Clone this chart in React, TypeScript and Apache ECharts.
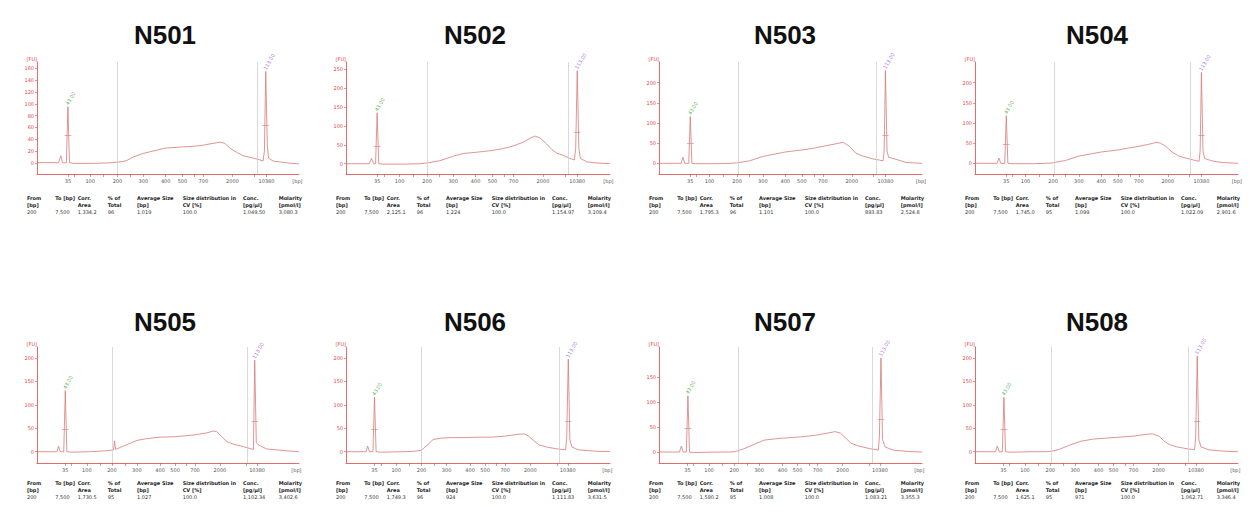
import React, { useEffect, useRef } from "react";
import * as echarts from "echarts";

// ---------- DATA ----------
const PANEL_NAMES = ["N501", "N502", "N503", "N504", "N505", "N506", "N507", "N508"];

const LADDER_LABELS = ["35", "100", "200", "300", "400", "500", "700", "2000", "10380", "[bp]"];
const LADDER_A = [11.8, 20.3, 30.7, 40.6, 49.1, 55.5, 63.5, 74.6, 87.6, 99.4];
const LADDER_B = [11.9, 19.2, 29.7, 39.5, 48.0, 54.3, 62.3, 73.3, 86.1, 99.6];
const LADDER_C = [10.8, 19.0, 28.6, 38.1, 47.0, 52.7, 60.3, 69.8, 84.0, 99.0];
const MINOR_A = [14.3, 25.4, 35.5, 60.0, 83.1];
const MINOR_B = [14.2, 24.5, 34.5, 59.0, 81.5];
const MINOR_C = [13.2, 24.0, 33.5, 57.0, 80.0];

const N501_TRACE = [[0,0],[4,0.5],[8.2,0],[9.1,12],[9.8,0],[11.2,0],[11.8,95],[12.4,0],[14,-1],[21.6,-1],[28,0],[30.5,1],[32.5,2],[34.3,4],[36.8,10],[40.6,16],[44.4,20],[49.1,25],[55.5,27],[60,28],[63.5,30],[66,32],[68.5,34],[69.8,35],[71.7,33],[73.6,25],[76.1,18],[78.7,12],[82.5,8],[85,5],[86.3,3],[86.8,20],[87.3,155],[87.9,30],[88.4,8],[90.1,3],[95.2,0],[100,-2]];
const N502_TRACE = [[0,0],[5,0],[8.8,0],[9.7,14],[10.5,0],[11.2,0],[11.8,134],[12.4,0],[14,-1],[22,-1],[28,0],[30.6,2],[35.6,8],[40.7,20],[44.4,27],[49.1,30],[55.4,35],[59.6,40],[63.4,47],[67.2,57],[69.7,67],[71.6,73],[73.5,68],[76,52],[77.9,38],[79.8,28],[82.3,22],[84.8,14],[86.5,10],[87,40],[87.6,245],[88.2,40],[88.8,14],[91.2,5],[94.9,2],[100,0]];
const N503_TRACE = [[0,0],[5,0],[8.4,0],[9.1,15],[9.8,0],[11.3,0],[11.9,116],[12.5,0],[14,-1],[22,-1],[27,0],[29.4,1],[34.4,6],[39.5,17],[48,28],[54.3,33],[58.5,37],[62.3,42],[68.6,50],[70.1,52],[72.4,42],[74.9,25],[77.5,18],[81.3,11],[83.8,8],[85.2,6],[85.6,30],[86.1,230],[86.7,30],[87.3,15],[90.1,10],[93.9,2],[100,0]];
const N504_TRACE = [[0,0],[5,0],[8.4,0],[9.1,13],[9.8,0],[11.3,0],[11.9,118],[12.5,0],[14,-1],[22,-1],[27,0],[29.4,1],[34.4,7],[39.5,18],[48,28],[54.3,33],[58.5,38],[62.3,42],[66,47],[69,52],[70.5,50],[72.5,42],[74.9,28],[77.5,18],[81.3,11],[83.8,7],[85.2,5],[85.6,30],[86.1,225],[86.7,30],[87.3,12],[90.1,6],[93.9,2],[100,0]];
const N505_TRACE = [[0,0],[5,0],[7.6,0],[8.2,12],[8.9,0],[10.2,0],[10.8,130],[11.4,0],[13,-1],[20,0],[26.6,2],[29.2,4],[29.6,23],[30,5],[33,12],[38.1,24],[41.9,28],[47,31],[52.7,32],[60.3,36],[64.7,40],[67.3,44],[68.5,43],[70.4,33],[72.3,22],[74.9,16],[78.7,11],[81.2,7],[82.6,5],[83.1,195],[83.7,20],[84.4,15],[87.6,6],[95.2,2],[100,0]];
const N506_TRACE = [[0,0],[5,0],[7.6,0],[8.2,12],[8.9,0],[10.2,0],[10.8,116],[11.4,0],[13,-1],[22,0],[26,1],[28.5,3],[31,15],[33,26],[36,29],[40,30],[45,30],[50,31],[55,31],[60,33],[65,37],[67.5,38],[69,34],[71,24],[73,15],[76,10],[80,6],[83.2,4],[83.6,30],[84.2,197],[84.8,25],[85.6,10],[88,4],[95,1],[100,0]];
const N507_TRACE = [[0,0],[5,0],[7.8,0],[8.5,12],[9.2,0],[10.4,0],[11,113],[11.6,0],[13,-1],[22,0],[27,0],[29,1],[32,6],[36,15],[40,24],[45,27],[50,29],[55,31],[60,34],[64,38],[67,41],[69,38],[71,28],[73,18],[76,12],[80,7],[83.4,4],[83.8,30],[84.4,189],[85,25],[86,10],[89,4],[95,1],[100,0]];
const N508_TRACE = [[0,0],[5,0],[7.8,0],[8.5,12],[9.2,0],[10.4,0],[11,116],[11.6,0],[13,-1],[22,0],[27,0],[29,1],[32,5],[36,14],[40,22],[45,27],[50,29],[55,31],[60,33],[65,37],[67.5,38],[70,33],[72,22],[74,15],[77,10],[81,6],[83.5,4],[83.9,30],[84.5,204],[85.1,25],[86,10],[89,4],[95,1],[100,0]];
const TRACES = [N501_TRACE, N502_TRACE, N503_TRACE, N504_TRACE, N505_TRACE, N506_TRACE, N507_TRACE, N508_TRACE];

const Y_TICKS_20_160 = [0, 20, 40, 60, 80, 100, 120, 140, 160];
const Y_TICKS_50_250 = [0, 50, 100, 150, 200, 250];
const Y_TICKS_50_200 = [0, 50, 100, 150, 200];
const Y_TICKS_50_150 = [0, 50, 100, 150];
const Y_TICKS = [Y_TICKS_20_160, Y_TICKS_50_250, Y_TICKS_50_200, Y_TICKS_50_200, Y_TICKS_50_200, Y_TICKS_50_200, Y_TICKS_50_150, Y_TICKS_50_200];
const Y_MIN = [-19, -27, -26.5, -26.5, -24, -24, -22, -24];
const Y_MAX = [171, 268, 251, 251, 223, 223, 211, 223];

const GATE_FROM = [30.7, 30.8, 30.0, 30.0, 28.6, 28.5, 30.0, 29.0];
const GATE_TO = [84.1, 84.2, 82.5, 82.0, 80.3, 80.8, 81.0, 81.0];

const LOWER_POS = [11.8, 11.8, 11.9, 11.9, 10.8, 10.8, 11, 11];
const LOWER_HEIGHT = [95, 134, 116, 118, 130, 116, 113, 116];
const LOWER_HALF = [47, 47, 49, 48, 47, 47, 47, 47];
const UPPER_POS = [87.3, 87.6, 86.1, 86.1, 83.1, 84.2, 84.4, 84.5];
const UPPER_HEIGHT = [155, 245, 230, 225, 195, 197, 189, 204];
const UPPER_HALF = [64, 82, 69, 70, 65, 65, 65, 65];
const LOWER_LABEL = "43.00";
const UPPER_LABEL = "113.00";

const FROM_BP = ["200", "200", "200", "200", "200", "200", "200", "200"];
const TO_BP = ["7,500", "7,500", "7,500", "7,500", "7,500", "7,500", "7,500", "7,500"];
const CORR_AREA = ["1,334.2", "2,125.1", "1,795.3", "1,745.0", "1,730.5", "1,749.3", "1,580.2", "1,625.1"];
const PCT_TOTAL = ["96", "96", "96", "95", "95", "96", "95", "95"];
const AVG_SIZE = ["1,019", "1,224", "1,101", "1,099", "1,027", "924", "1,008", "971"];
const CV_PCT = ["100.0", "100.0", "100.0", "100.0", "100.0", "100.0", "100.0", "100.0"];
const CONC = ["1,049.50", "1,154.97", "893.83", "1,022.09", "1,102.34", "1,111.83", "1,083.21", "1,062.71"];
const MOLARITY = ["3,080.3", "3,109.4", "2,524.8", "2,901.6", "3,402.6", "3,631.5", "3,355.3", "3,346.4"];

const HEAD_1 = ["From", "To [bp]", "Corr.", "% of", "Average Size", "Size distribution in", "Conc.", "Molarity"];
const HEAD_2 = ["[bp]", "", "Area", "Total", "[bp]", "CV [%]", "[pg/µl]", "[pmol/l]"];

// ---------- LAYOUT ----------
const PANEL_LEFT = [37, 346, 659, 975];
const PANEL_WIDTH = [262, 264, 263, 263];
const ROW_TOP = [62, 347];
const ROW_HEIGHT = [112, 116];
const TITLE_X = [165, 475, 785, 1097];
const TITLE_Y = [35, 322];
const TABLE_Y = [[198.3, 205, 211.7], [483.3, 490, 496.7]];
const COL_OFF = [0, 28.3, 50.7, 80.7, 110, 155.7, 216, 251.7];

const RED = "#e04545";
const TRACE = "#d77a7a";
const GRAY = "#cfcfcf";

export default function App() {
  const ref = useRef<HTMLDivElement>(null);
  useEffect(() => {
    if (!ref.current) return;
    const chart = echarts.init(ref.current, null, { renderer: "svg" });
    const grids: any[] = [];
    const xAxes: any[] = [];
    const yAxes: any[] = [];
    const series: any[] = [];
    const graphics: any[] = [];

    for (let i = 0; i < 8; i++) {
      const row = Math.floor(i / 4);
      const col = i % 4;
      const ladder = row === 1 ? LADDER_C : i < 2 ? LADDER_A : LADDER_B;
      const minor = row === 1 ? MINOR_C : i < 2 ? MINOR_A : MINOR_B;
      grids.push({ left: PANEL_LEFT[col], top: ROW_TOP[row], width: PANEL_WIDTH[col], height: ROW_HEIGHT[row] });
      xAxes.push({
        gridIndex: i, type: "value", min: 0, max: 100,
        axisLine: { show: true, onZero: false, lineStyle: { color: RED, width: 0.8 } },
        axisTick: { show: true, length: 3, customValues: ladder.slice(0, 9).concat(minor), lineStyle: { color: RED, width: 0.6 } },
        axisLabel: {
          customValues: ladder, fontSize: 5, color: "#555", margin: 4, fontFamily: "DejaVu Sans",
          formatter: (v: number) => {
            const k = ladder.findIndex((p) => Math.abs(p - v) < 0.01);
            return k >= 0 ? LADDER_LABELS[k] : "";
          },
        },
        splitLine: { show: false },
      });
      yAxes.push({
        gridIndex: i, type: "value", min: Y_MIN[i], max: Y_MAX[i],
        name: "[FU]", nameLocation: "end", nameGap: 1,
        nameTextStyle: { color: RED, fontSize: 5, align: "right", verticalAlign: "bottom", fontFamily: "DejaVu Sans" },
        axisLine: { show: true, onZero: false, lineStyle: { color: RED, width: 0.8 } },
        axisTick: { show: true, length: 2, customValues: Y_TICKS[i], lineStyle: { color: RED, width: 0.6 } },
        axisLabel: { customValues: Y_TICKS[i], fontSize: 5, color: RED, margin: 3, fontFamily: "DejaVu Sans" },
        splitLine: { show: false },
      });
      series.push({
        type: "line", xAxisIndex: i, yAxisIndex: i, data: TRACES[i], showSymbol: false,
        lineStyle: { color: TRACE, width: 0.8 }, z: 3,
        markLine: {
          silent: true, symbol: "none", label: { show: false },
          data: [
            { xAxis: GATE_FROM[i], lineStyle: { color: GRAY, width: 0.8, type: "solid" } },
            { xAxis: GATE_TO[i], lineStyle: { color: GRAY, width: 0.8, type: "solid" } },
            [
              { coord: [LOWER_POS[i] - 1.3, LOWER_HALF[i]], lineStyle: { color: TRACE, width: 0.6, type: "solid" } },
              { coord: [LOWER_POS[i] + 1.3, LOWER_HALF[i]] },
            ],
            [
              { coord: [UPPER_POS[i] - 1.2, UPPER_HALF[i]], lineStyle: { color: TRACE, width: 0.6, type: "solid" } },
              { coord: [UPPER_POS[i] + 1.2, UPPER_HALF[i]] },
            ],
          ],
        },
      });
      series.push({
        type: "scatter", xAxisIndex: i, yAxisIndex: i, symbolSize: 0, silent: true,
        data: [
          { value: [LOWER_POS[i], LOWER_HEIGHT[i]], label: { formatter: LOWER_LABEL, color: "#2f9a2f" } },
          { value: [UPPER_POS[i], UPPER_HEIGHT[i]], label: { formatter: UPPER_LABEL, color: "#8d45d6" } },
        ],
        label: { show: true, position: [1, -1], rotate: 60, align: "left", verticalAlign: "bottom", fontSize: 5, fontFamily: "DejaVu Sans" },
      });

      graphics.push({
        type: "text", left: undefined, x: TITLE_X[col], y: TITLE_Y[row],
        style: { text: PANEL_NAMES[i], font: "bold 26px 'Liberation Sans', Arial, sans-serif", fill: "#111", align: "center", verticalAlign: "middle" },
      });
      const tx = PANEL_LEFT[col] - 10;
      const ty = TABLE_Y[row];
      const vals = [FROM_BP[i], TO_BP[i], CORR_AREA[i], PCT_TOTAL[i], AVG_SIZE[i], CV_PCT[i], CONC[i], MOLARITY[i]];
      for (let c = 0; c < 8; c++) {
        const hs = [HEAD_1[c], HEAD_2[c]];
        hs.forEach((h, r) => {
          if (!h) return;
          graphics.push({
            type: "text", x: tx + COL_OFF[c], y: ty[r],
            style: { text: h, font: "bold 5px 'DejaVu Sans', Verdana, sans-serif", fill: "#222", align: "left", verticalAlign: "middle" },
          });
        });
        graphics.push({
          type: "text", x: tx + COL_OFF[c], y: ty[2],
          style: { text: vals[c], font: "5px 'DejaVu Sans', Verdana, sans-serif", fill: "#333", align: "left", verticalAlign: "middle" },
        });
      }
    }

    chart.setOption({
      animation: false,
      backgroundColor: "#ffffff",
      grid: grids,
      xAxis: xAxes,
      yAxis: yAxes,
      series,
      graphic: graphics,
    });
    return () => chart.dispose();
  }, []);
  return <div ref={ref} style={{ position: "fixed", left: 0, top: 0, width: 1251, height: 514, background: "#fff" }} />;
}
